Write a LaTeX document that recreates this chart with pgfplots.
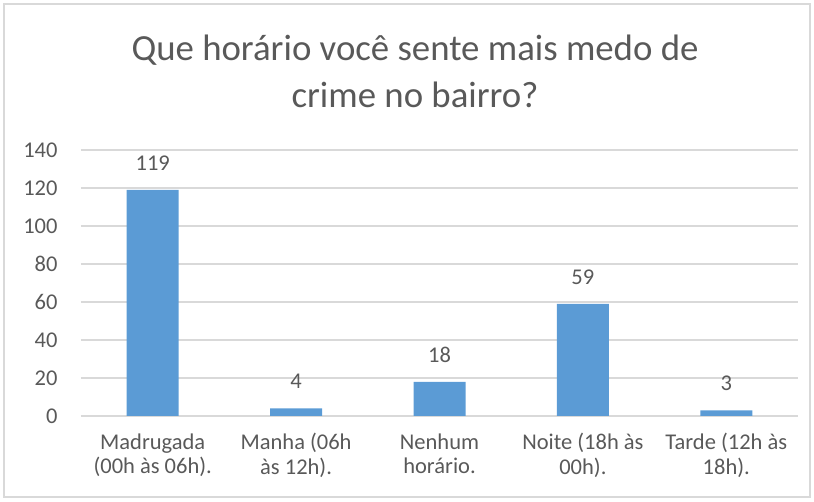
\documentclass[border=0pt]{standalone}
\usepackage{pgfplots}
\pgfplotsset{compat=1.18}
\usepackage{fontspec}
\setmainfont{Carlito}
\definecolor{barblue}{HTML}{5B9BD5}
\definecolor{txt}{HTML}{595959}
\definecolor{gridc}{HTML}{D9D9D9}
\begin{document}
\begin{tikzpicture}[x=1pt,y=1pt]
\useasboundingbox (0,0) rectangle (814,502);
\draw[gridc, line width=1.2pt] (4,5) rectangle (810,498);
\node[anchor=north, align=center, text=txt, font=\fontsize{36.8}{47}\selectfont, inner sep=0pt] at (415,467) {Que horário você sente mais medo de\\crime no bairro?};
\begin{axis}[
  at={(81pt,86pt)}, anchor=south west,
  scale only axis, width=717pt, height=266pt,
  ymin=0, ymax=140, ytick={0,20,...,140},
  xmin=-0.5, xmax=4.5,
  xtick={0,1,2,3,4},
  xticklabels={{Madrugada\\(00h às 06h).},{Manha (06h\\às 12h).},{Nenhum\\horário.},{Noite (18h às\\00h).},{Tarde (12h às\\18h).}},
  xticklabel style={align=center, text=txt, font=\fontsize{22.5}{24.5}\selectfont, yshift=-14pt},
  yticklabel style={text=txt, font=\fontsize{22.5}{24}\selectfont, xshift=-20pt},
  /pgf/number format/assume math mode=true,
  major tick length=0pt,
  axis x line*=bottom,
  axis y line*=left,
  x axis line style={gridc, line width=1.5pt, -},
  y axis line style={draw=none},
  ymajorgrids, grid style={gridc, line width=1.2pt},
  ybar, bar width=52pt,
  nodes near coords,
  nodes near coords style={text=txt, font=\fontsize{22.5}{24}\selectfont, yshift=16pt},
  clip=false,
]
\addplot[fill=barblue, draw=none] coordinates {(0,119) (1,4) (2,18) (3,59) (4,3)};
\end{axis}
\end{tikzpicture}
\end{document}
